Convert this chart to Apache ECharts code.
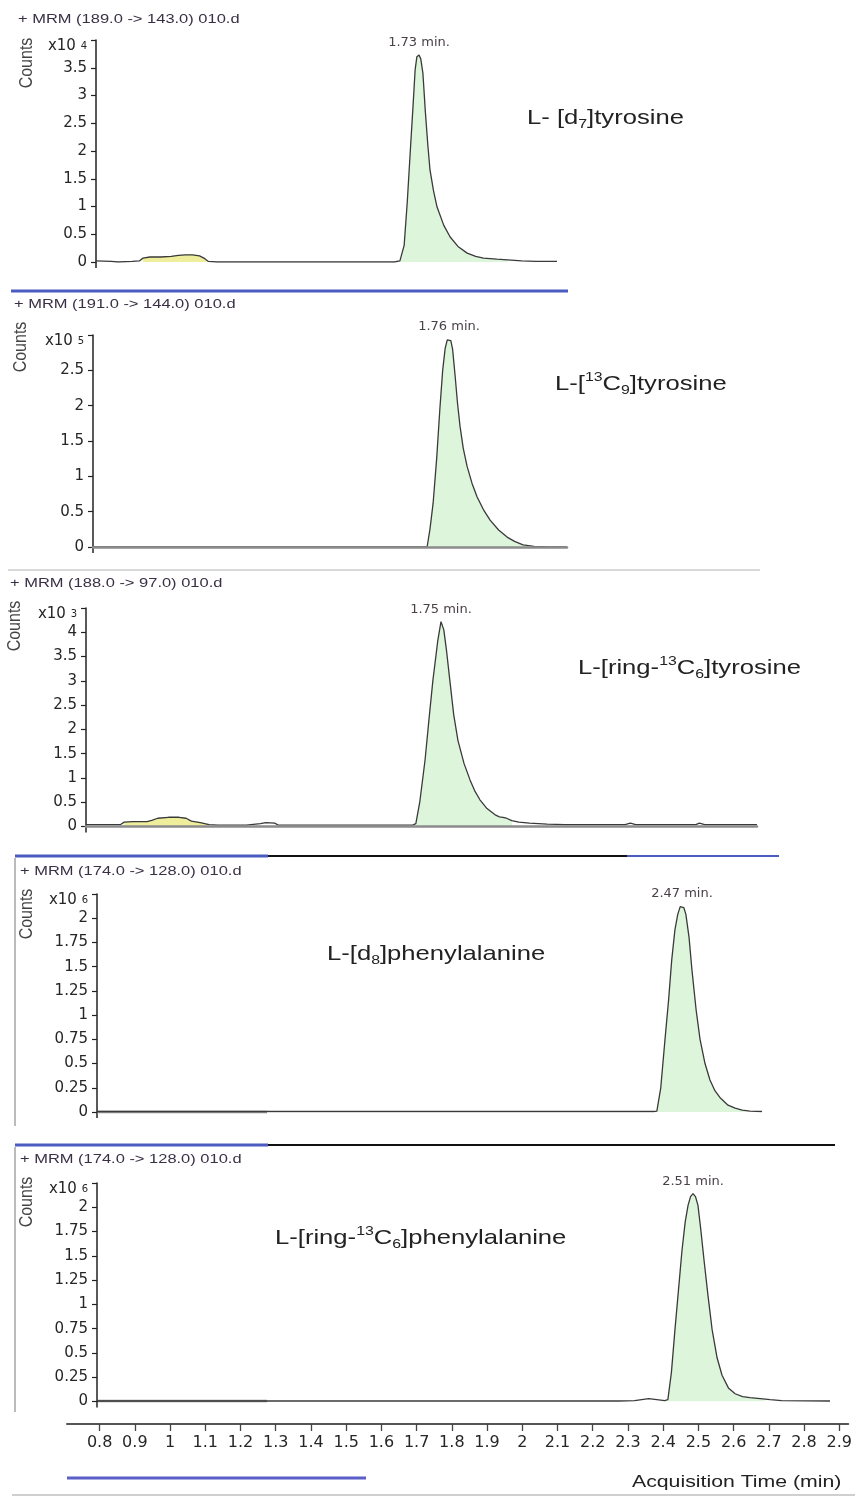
<!DOCTYPE html>
<html><head><meta charset="utf-8">
<script src="https://cdn.jsdelivr.net/npm/echarts@6/dist/echarts.min.js"></script>
<style>html,body{margin:0;padding:0;background:#fff}#c{width:855px;height:1497px}</style>
</head><body><div id="c"></div>
<script>
// ---------------- DATA ----------------
const panelTitles = [
  '+ MRM (189.0 -> 143.0) 010.d',
  '+ MRM (191.0 -> 144.0) 010.d',
  '+ MRM (188.0 -> 97.0) 010.d',
  '+ MRM (174.0 -> 128.0) 010.d',
  '+ MRM (174.0 -> 128.0) 010.d'
];
const peakLabels = ['1.73 min.', '1.76 min.', '1.75 min.', '2.47 min.', '2.51 min.'];
const compoundNames = [
  '{n|L- [d}{b|7}{n|]tyrosine}',
  '{n|L-[}{p|13}{n|C}{b|9}{n|]tyrosine}',
  '{n|L-[ring-}{p|13}{n|C}{b|6}{n|]tyrosine}',
  '{n|L-[d}{b|8}{n|]phenylalanine}',
  '{n|L-[ring-}{p|13}{n|C}{b|6}{n|]phenylalanine}'
];
const yExponents = [4, 5, 3, 6, 6];
const yMaxValues = [4, 3, 4.5, 2.25, 2.25];
const yStepValues = [0.5, 0.5, 0.5, 0.25, 0.25];
const xTickLabels = ['0.8','0.9','1','1.1','1.2','1.3','1.4','1.5','1.6','1.7','1.8','1.9','2','2.1','2.2','2.3','2.4','2.5','2.6','2.7','2.8','2.9'];

// traces: [time (min), counts (x10^n)]
const p1Trace = [[0.8175,0.02],[0.86,0.01],[0.88,0.0],[0.92,0.01],[0.94,0.02],[0.95,0.07],[0.97,0.09],[1.00,0.09],[1.03,0.10],[1.05,0.12],[1.07,0.13],[1.09,0.13],[1.11,0.11],[1.125,0.06],[1.135,0.01],[1.16,0.0],[1.3,0.0],[1.5,0.0],[1.66,0.0],[1.676,0.02],[1.688,0.3],[1.697,1.1],[1.705,1.96],[1.713,2.8],[1.719,3.46],[1.724,3.7],[1.73,3.73],[1.735,3.66],[1.741,3.4],[1.748,2.7],[1.755,2.1],[1.761,1.66],[1.771,1.28],[1.781,0.99],[1.80,0.66],[1.818,0.45],[1.84,0.28],[1.866,0.16],[1.89,0.10],[1.912,0.07],[1.95,0.05],[1.98,0.04],[2.02,0.02],[2.06,0.01],[2.1198,0.01]];
const p2Trace = [[0.7542,0],[1.0,0],[1.3,0],[1.6,0],[1.698,0.0],[1.706,0.25],[1.715,0.62],[1.725,1.25],[1.734,1.95],[1.742,2.5],[1.749,2.81],[1.755,2.93],[1.76,2.95],[1.765,2.92],[1.770,2.8],[1.777,2.43],[1.784,2.03],[1.791,1.71],[1.80,1.4],[1.811,1.14],[1.825,0.9],[1.839,0.71],[1.857,0.53],[1.876,0.38],[1.90,0.24],[1.924,0.14],[1.945,0.08],[1.969,0.03],[2.00,0.01],[2.04,0.0],[2.0932,0.0]];
const p3Trace = [[0.7472,0.04],[0.80,0.04],[0.845,0.04],[0.855,0.09],[0.88,0.10],[0.92,0.10],[0.935,0.13],[0.95,0.17],[0.98,0.19],[1.01,0.19],[1.03,0.17],[1.045,0.11],[1.07,0.08],[1.095,0.04],[1.12,0.03],[1.2,0.03],[1.24,0.06],[1.255,0.08],[1.28,0.07],[1.29,0.03],[1.4,0.03],[1.5,0.03],[1.6,0.03],[1.67,0.03],[1.679,0.06],[1.69,0.5],[1.705,1.37],[1.716,2.2],[1.727,3.0],[1.741,3.83],[1.75,4.22],[1.758,4.05],[1.766,3.6],[1.775,3.01],[1.786,2.3],[1.798,1.77],[1.815,1.3],[1.832,0.96],[1.845,0.74],[1.86,0.55],[1.88,0.37],[1.903,0.24],[1.915,0.2],[1.925,0.19],[1.935,0.17],[1.95,0.12],[1.97,0.09],[2.0,0.07],[2.05,0.05],[2.1,0.04],[2.2,0.04],[2.27,0.04],[2.285,0.07],[2.30,0.04],[2.4,0.04],[2.47,0.04],[2.48,0.07],[2.495,0.04],[2.55,0.04],[2.6427,0.04]];
const p4Trace = [[0.8175,0.005],[1.2,0.005],[1.6,0.005],[2.0,0.005],[2.3,0.005],[2.39,0.005],[2.399,0.01],[2.41,0.25],[2.422,0.75],[2.432,1.15],[2.441,1.57],[2.45,1.88],[2.458,2.04],[2.465,2.12],[2.47,2.13],[2.475,2.11],[2.481,2.04],[2.49,1.8],[2.498,1.47],[2.51,1.05],[2.521,0.75],[2.535,0.5],[2.549,0.33],[2.563,0.22],[2.577,0.15],[2.60,0.07],[2.62,0.04],[2.64,0.02],[2.662,0.01],[2.696,0.005]];
const p5Trace = [[0.8263,0.005],[1.2,0.005],[1.6,0.005],[2.0,0.005],[2.3,0.005],[2.345,0.01],[2.35,0.03],[2.385,0.03],[2.39,0.01],[2.43,0.01],[2.439,0.02],[2.449,0.3],[2.459,0.74],[2.469,1.15],[2.479,1.56],[2.488,1.85],[2.496,2.02],[2.503,2.11],[2.51,2.14],[2.517,2.11],[2.524,2.02],[2.532,1.77],[2.541,1.46],[2.552,1.1],[2.564,0.74],[2.578,0.45],[2.592,0.27],[2.61,0.14],[2.629,0.08],[2.65,0.05],[2.671,0.04],[2.70,0.03],[2.728,0.02],[2.76,0.01],[2.897,0.005]];
const traces = [p1Trace, p2Trace, p3Trace, p4Trace, p5Trace];
// integrated peak windows (min)
const greenWindows = [[1.676, 2.00], [1.698, 2.00], [1.679, 1.96], [2.399, 2.68], [2.439, 2.73]];
const yellowWindows = [[0.945, 1.135], null, [0.85, 1.10], null, null];

// ---------------- LAYOUT ----------------
const panelLayout = [
  {left: 96, top: 40,   width: 461, height: 222,   xmin: 0.8175, xmax: 2.1198, baseAxis: false},
  {left: 93, top: 335,  width: 474, height: 212,   xmin: 0.7542, xmax: 2.0932, baseAxis: true},
  {left: 86, top: 608,  width: 671, height: 218.5, xmin: 0.7472, xmax: 2.6427, baseAxis: true},
  {left: 97, top: 894,  width: 665, height: 218,   xmin: 0.8175, xmax: 2.696,  baseAxis: false},
  {left: 97, top: 1183, width: 733, height: 218.5, xmin: 0.8263, xmax: 2.897,  baseAxis: false}
];
const titlePos = [[18, 19], [14, 304], [10, 583], [20, 871], [20, 1159]];
const countsPos = [[27, 63], [21, 347], [15, 626], [27, 914], [27, 1202]];
const namePos = [[527, 118], [555, 384], [578, 668], [327, 954], [275, 1238]];

const FONT_AX = "'DejaVu Sans', 'Liberation Sans', sans-serif";
const FONT_TX = "'Liberation Sans', Arial, sans-serif";
const GREEN = '#ddf5da';
const YELLOW = '#eeee9c';
const TRACE = '#3a3a3a';

const grids = [], xAxes = [], yAxes = [], series = [], graphics = [];

function ln(x1, y1, x2, y2, color, w) {
  return {type: 'line', shape: {x1, y1, x2, y2}, style: {stroke: color, lineWidth: w}, silent: true};
}

panelLayout.forEach((L, i) => {
  grids.push({left: L.left, top: L.top, width: L.width, height: L.height, containLabel: false});
  xAxes.push({
    gridIndex: i, type: 'value', min: L.xmin, max: L.xmax,
    show: L.baseAxis, z: 10,
    axisLine: {show: L.baseAxis, onZero: false, lineStyle: {color: '#8c8c8c', width: 2.5}},
    axisTick: {show: false}, axisLabel: {show: false}, splitLine: {show: false}
  });
  const ymax = yMaxValues[i], exp = yExponents[i];
  yAxes.push({
    gridIndex: i, type: 'value', min: 0, max: ymax, interval: yStepValues[i],
    axisLine: {show: true, lineStyle: {color: '#222', width: 1.5}},
    axisTick: {show: true, inside: false, length: 5, lineStyle: {color: '#222', width: 1.2}},
    splitLine: {show: false},
    axisLabel: {
      margin: 9, color: '#262626', fontSize: 15, fontFamily: FONT_AX,
      formatter: v => Math.abs(v - ymax) < 1e-9 ? '{a|x10 }{s|' + exp + '}' : String(+v.toFixed(2)),
      rich: {
        a: {fontSize: 15, fontFamily: FONT_AX, color: '#262626', lineHeight: 18, padding: [12, 0, 0, 0]},
        s: {fontSize: 10, fontFamily: FONT_AX, color: '#262626', lineHeight: 10, verticalAlign: 'top', padding: [10, 0, 0, 0]}
      }
    }
  });
  // y axis line extends a little below the zero line, as in the reference
  graphics.push(ln(L.left, L.top + L.height, L.left, L.top + L.height + 6, '#222', 1.5));

  const tr = traces[i];
  const gw = greenWindows[i];
  series.push({
    type: 'line', xAxisIndex: i, yAxisIndex: i, z: 1, silent: true,
    data: tr.filter(p => p[0] >= gw[0] && p[0] <= gw[1]),
    showSymbol: false, lineStyle: {width: 0}, areaStyle: {color: GREEN, opacity: 1}
  });
  const yw = yellowWindows[i];
  if (yw) {
    series.push({
      type: 'line', xAxisIndex: i, yAxisIndex: i, z: 1, silent: true,
      data: tr.filter(p => p[0] >= yw[0] && p[0] <= yw[1]),
      showSymbol: false, lineStyle: {width: 0}, areaStyle: {color: YELLOW, opacity: 1}
    });
  }
  series.push({
    type: 'line', xAxisIndex: i, yAxisIndex: i, z: 3, silent: true,
    data: tr, showSymbol: false,
    lineStyle: {color: TRACE, width: 1.3},
    markPoint: {
      symbol: 'circle', symbolSize: 1, itemStyle: {color: 'rgba(0,0,0,0)'},
      data: [{type: 'max'}],
      label: {show: true, position: 'top', distance: 5, formatter: peakLabels[i],
              fontSize: 13, fontFamily: FONT_AX, color: '#4a4048'}
    }
  });

  graphics.push({type: 'text', x: titlePos[i][0], y: titlePos[i][1], scaleX: 1.22,
    style: {text: panelTitles[i], font: '13.5px ' + FONT_TX, fill: '#3a3046',
            align: 'left', verticalAlign: 'middle', textAlign: 'left', textVerticalAlign: 'middle'}});
  graphics.push({type: 'text', x: countsPos[i][0], y: countsPos[i][1], rotation: Math.PI / 2, scaleY: 1.15,
    style: {text: 'Counts', font: '16px ' + FONT_TX, fill: '#444',
            align: 'center', verticalAlign: 'middle', textAlign: 'center', textVerticalAlign: 'middle'}});
  graphics.push({type: 'text', x: namePos[i][0], y: namePos[i][1], scaleX: 1.22,
    style: {text: compoundNames[i], align: 'left', verticalAlign: 'middle', textAlign: 'left', textVerticalAlign: 'middle',
      rich: {
        n: {fontSize: 21, fontFamily: FONT_TX, fill: '#222', color: '#222', lineHeight: 26},
        p: {fontSize: 13, fontFamily: FONT_TX, fill: '#222', color: '#222', lineHeight: 13, verticalAlign: 'top'},
        b: {fontSize: 13, fontFamily: FONT_TX, fill: '#222', color: '#222', lineHeight: 13, verticalAlign: 'bottom'}
      }}});
});

// bottom shared time axis
const xTickValues = xTickLabels.map(Number);
grids.push({left: 67, top: 1423, width: 783, height: 1});
xAxes.push({
  gridIndex: 5, type: 'value', min: 0.7074, max: 2.9255, position: 'bottom',
  axisLine: {show: true, onZero: false, lineStyle: {color: '#555', width: 2}},
  axisTick: {show: true, customValues: xTickValues, length: 7, lineStyle: {color: '#444', width: 1.3}},
  axisLabel: {show: true, customValues: xTickValues, margin: 11, fontSize: 16, fontFamily: FONT_AX, color: '#262626',
    formatter: v => { const k = xTickValues.findIndex(t => Math.abs(t - v) < 1e-6); return k >= 0 ? xTickLabels[k] : ''; }},
  splitLine: {show: false}
});
yAxes.push({gridIndex: 5, type: 'value', min: 0, max: 1, show: false});

// separators / frame lines
const BLUE = '#4a5cc0';
graphics.push(
  ln(11, 291, 568, 291, BLUE, 3),
  ln(8, 570, 760, 570, '#d8d8d8', 2),
  ln(15, 856, 268, 856, BLUE, 3), ln(268, 856, 627, 856, '#111', 2), ln(627, 856, 779, 856, BLUE, 2),
  ln(15, 858, 15, 1126, '#bbb', 2),
  ln(15, 1145, 268, 1145, BLUE, 3), ln(268, 1145, 835, 1145, '#111', 2),
  ln(15, 1147, 15, 1412, '#bbb', 2),
  ln(97, 1112, 267, 1112, '#8c8c8c', 2.5),
  ln(97, 1401, 267, 1401, '#8c8c8c', 2.5),
  ln(67, 1478, 366, 1478, '#5b5fc7', 3),
  ln(12, 1495, 855, 1495, '#cfcfcf', 2)
);
graphics.push({type: 'text', x: 632, y: 1482, scaleX: 1.25,
  style: {text: 'Acquisition Time (min)', font: '17px ' + FONT_TX, fill: '#222',
          align: 'left', verticalAlign: 'middle', textAlign: 'left', textVerticalAlign: 'middle'}});

const chart = echarts.init(document.getElementById('c'), null, {renderer: 'canvas'});
chart.setOption({
  animation: false,
  backgroundColor: '#fff',
  grid: grids, xAxis: xAxes, yAxis: yAxes, series: series,
  graphic: {elements: graphics}
});
</script></body></html>
